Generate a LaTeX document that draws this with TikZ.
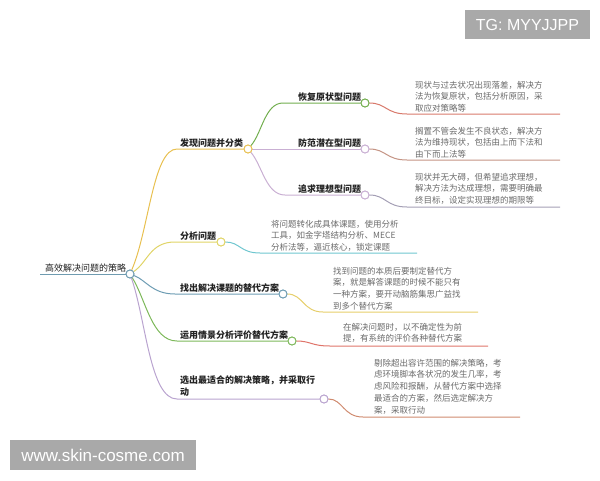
\documentclass[tikz,border=0pt]{standalone}
\usepackage{fontspec}
\setmainfont{Noto Sans CJK SC}
\newfontfamily\wmfont{Liberation Sans}
\definecolor{cRoot}{HTML}{6F9BB0}
\definecolor{cA}{HTML}{E8C050}
\definecolor{cB}{HTML}{E0D466}
\definecolor{cC}{HTML}{6D9CB3}
\definecolor{cD}{HTML}{7DB85A}
\definecolor{cE}{HTML}{B9A3CF}
\definecolor{cAa}{HTML}{72AE4E}
\definecolor{cAb}{HTML}{C9AFD3}
\definecolor{cAc}{HTML}{C9AFD3}
\definecolor{dAa}{HTML}{D8796B}
\definecolor{dAb}{HTML}{C49484}
\definecolor{dAc}{HTML}{A49FB5}
\definecolor{dB}{HTML}{6FC6CF}
\definecolor{dC}{HTML}{E6CE6A}
\definecolor{dD}{HTML}{DF746A}
\definecolor{dE}{HTML}{CF8A6E}
\definecolor{wmgray}{HTML}{A9A9A9}
\definecolor{txt}{HTML}{222222}
\definecolor{desctxt}{HTML}{6A6A6A}
\begin{document}
\begin{tikzpicture}[x=1pt,y=-1pt,
  topic/.style={anchor=west, inner sep=0pt, font=\fontsize{9}{11.5}\selectfont\bfseries, text=txt},
  topic2/.style={anchor=north west, inner sep=0pt, align=left, font=\fontsize{9}{11.8}\selectfont\bfseries, text=txt},
  desc/.style={anchor=north west, inner sep=0pt, align=left, font=\fontsize{8.5}{11.8}\selectfont, text=desctxt},
  knob/.style={circle, draw=#1, fill=white, minimum size=8pt, inner sep=0pt, line width=0.9pt},
  link/.style={line width=1pt, draw=#1},
  wmbox/.style={fill=wmgray, text=white, inner sep=0pt, font=\wmfont\fontsize{16}{16}\selectfont}
]
\useasboundingbox (0,0) rectangle (600,480);

% watermarks
\node[wmbox, minimum width=125pt, minimum height=29pt] (tg) at (527.5,24.5) {TG: MYYJJPP};
\node[wmbox, minimum width=186pt, minimum height=30pt, font=\wmfont\fontsize{17}{17}\selectfont] (www) at (103,455) {www.skin-cosme.com};

% circles
\node[knob=cRoot] (R) at (130,274) {};
\node[knob=cA] (A) at (248,149) {};
\node[knob=cB] (B) at (221,242) {};
\node[knob=cC] (C) at (283,294) {};
\node[knob=cD] (D) at (292,341) {};
\node[knob=cE] (E) at (324,399) {};
\node[knob=cAa] (A1) at (365,103) {};
\node[knob=cAb] (A2) at (365,149) {};
\node[knob=cAc] (A3) at (365,195) {};

% free ends
\coordinate (r0) at (40,274);
\coordinate (a0) at (177,149);
\coordinate (b0) at (175,242);
\coordinate (c0) at (175,294);
\coordinate (d0) at (177,341);
\coordinate (e0) at (177,399);
\coordinate (a10) at (283,103);
\coordinate (a30) at (285,195);
\coordinate (a1s) at (407,114);
\coordinate (a1e) at (560,114);
\coordinate (a2s) at (407,160);
\coordinate (a2e) at (560,160);
\coordinate (a3s) at (407,207);
\coordinate (a3e) at (560,207);
\coordinate (bs) at (260,253);
\coordinate (be) at (417,253);
\coordinate (cs) at (323,312);
\coordinate (ce) at (478,312);
\coordinate (ds) at (330,346);
\coordinate (de) at (488,346);
\coordinate (es) at (363,417);
\coordinate (ee) at (520,417);

% connectors
\draw[link=cRoot] (r0) -- (R);
\draw[link=cA] (R) .. controls (149,230) and (153,149) .. (a0) -- (A);
\draw[link=cB] (R) .. controls (148,262) and (150,242) .. (b0) -- (B);
\draw[link=cC] (R) .. controls (146,280) and (152,294) .. (c0) -- (C);
\draw[link=cD] (R) .. controls (146,300) and (152,341) .. (d0) -- (D);
\draw[link=cE] (R) .. controls (146,320) and (150,399) .. (e0) -- (E);

\draw[link=cAa] (A) .. controls (262,133) and (265,103) .. (a10) -- (A1);
\draw[link=cAb] (A) -- (A2);
\draw[link=cAc] (A) .. controls (262,165) and (266,195) .. (a30) -- (A3);

\draw[link=dAa] (A1) .. controls (386,103) and (386,114) .. (a1s) -- (a1e);
\draw[link=dAb] (A2) .. controls (386,149) and (386,160) .. (a2s) -- (a2e);
\draw[link=dAc] (A3) .. controls (386,195) and (386,207) .. (a3s) -- (a3e);
\draw[link=dB] (B) .. controls (240,242) and (240,253) .. (bs) -- (be);
\draw[link=dC] (C) .. controls (303,294) and (303,312) .. (cs) -- (ce);
\draw[link=dD] (D) .. controls (311,341) and (311,346) .. (ds) -- (de);
\draw[link=dE] (E) .. controls (343,399) and (343,417) .. (es) -- (ee);

% redraw circles on top
\foreach \n/\c in {R/cRoot,A/cA,B/cB,C/cC,D/cD,E/cE,A1/cAa,A2/cAb,A3/cAc}
  \node[knob=\c] at (\n) {};

% labels
\node[anchor=west, inner sep=0pt, font=\fontsize{9}{11.5}\selectfont, text=txt] (tR) at (45,268) {高效解决问题的策略};
\node[topic] (tA) at (180,143) {发现问题并分类};
\node[topic] (tB) at (180,236) {分析问题};
\node[topic] (tC) at (180,288) {找出解决课题的替代方案};
\node[topic] (tD) at (180,335) {运用情景分析评价替代方案};
\node[topic2] (tE) at (180,375.6) {选出最适合的解决策略，并采取行\\动};
\node[topic] (tA1) at (298,97) {恢复原状型问题};
\node[topic] (tA2) at (298,143) {防范潜在型问题};
\node[topic] (tA3) at (298,189) {追求理想型问题};

% descriptions
\node[desc] (dA1) at (415,80.7) {现状与过去状况出现落差，解决方\\法为恢复原状，包括分析原因，采\\取应对策略等};
\node[desc] (dA2) at (415,126.7) {搁置不管会发生不良状态，解决方\\法为维持现状，包括由上而下法和\\由下而上法等};
\node[desc] (dA3) at (415,172.7) {现状并无大碍，但希望追求理想，\\解决方法为达成理想，需要明确最\\终目标，设定实现理想的期限等};
\node[desc] (dB) at (271,219.7) {将问题转化成具体课题，使用分析\\工具，如金字塔结构分析、MECE\\分析法等，逼近核心，锁定课题};
\node[desc] (dC) at (333,266.7) {找到问题的本质后要制定替代方\\案，就是解答课题的时候不能只有\\一种方案，要开动脑筋集思广益找\\到多个替代方案};
\node[desc] (dD) at (343,322.7) {在解决问题时，以不确定性为前\\提，有系统的评价各种替代方案};
\node[desc] (dE) at (374,358.7) {剔除超出容许范围的解决策略，考\\虑环境脚本各状况的发生几率，考\\虑风险和报酬，从替代方案中选择\\最适合的方案，然后选定解决方\\案，采取行动};
\end{tikzpicture}
\end{document}
